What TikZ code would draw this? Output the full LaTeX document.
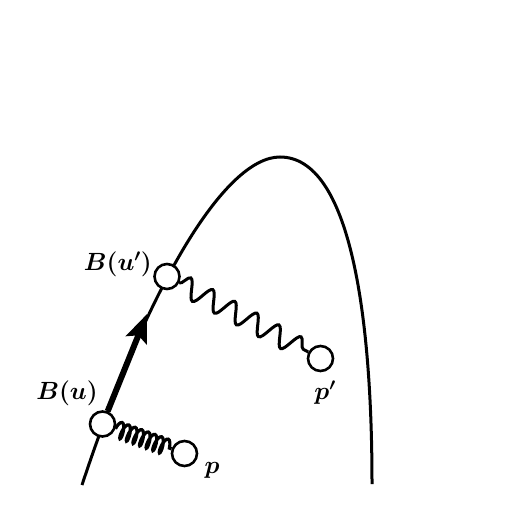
\documentclass[tikz,border=0pt]{standalone}
\usepackage{amsmath,bm}
\usetikzlibrary{decorations.pathmorphing,arrows.meta}
\begin{document}
\begin{tikzpicture}[x=1pt,y=-1pt,
  pt/.style={circle,draw,fill=white,line width=2.6pt,minimum size=25pt,inner sep=0pt},
  lbl/.style={inner sep=0pt,font=\fontsize{27}{32}\selectfont},
  curve/.style={line width=3pt},
  coilspring/.style={decorate,line width=3.2pt,decoration={coil,aspect=0.3,segment length=7pt,amplitude=8pt}},
  wavyspring/.style={decorate,line width=3pt,decoration={snake,segment length=25pt,amplitude=10pt}}]
\useasboundingbox (0,0) rectangle (521,529);
\draw[curve] (82,485) .. controls (148,285) and (225,157) .. (280,157)
  .. controls (350,157) and (372,314) .. (372,484);
\node[pt] (bu) at (102.5,424) {};
\node[pt] (bup) at (167,276.5) {};
\node[pt] (p) at (184.5,453.5) {};
\node[pt] (pp) at (320.5,358.5) {};
\coordinate (tip) at (147,314);
\draw[line width=6pt,-{Stealth[length=28pt,width=22pt,inset=5pt]}] (bu) -- (tip);
\draw[coilspring] (bu) -- (p);
\draw[wavyspring] (bup) -- (pp);
\node[lbl,anchor=east] (lbu) at (98,393) {$\bm{B(u)}$};
\node[lbl,anchor=east] (lbup) at (152,264) {$\bm{B(u')}$};
\node[lbl] (lp) at (212,470) {$\bm{p}$};
\node[lbl] (lpp) at (325,393) {$\bm{p'}$};
\end{tikzpicture}
\end{document}
